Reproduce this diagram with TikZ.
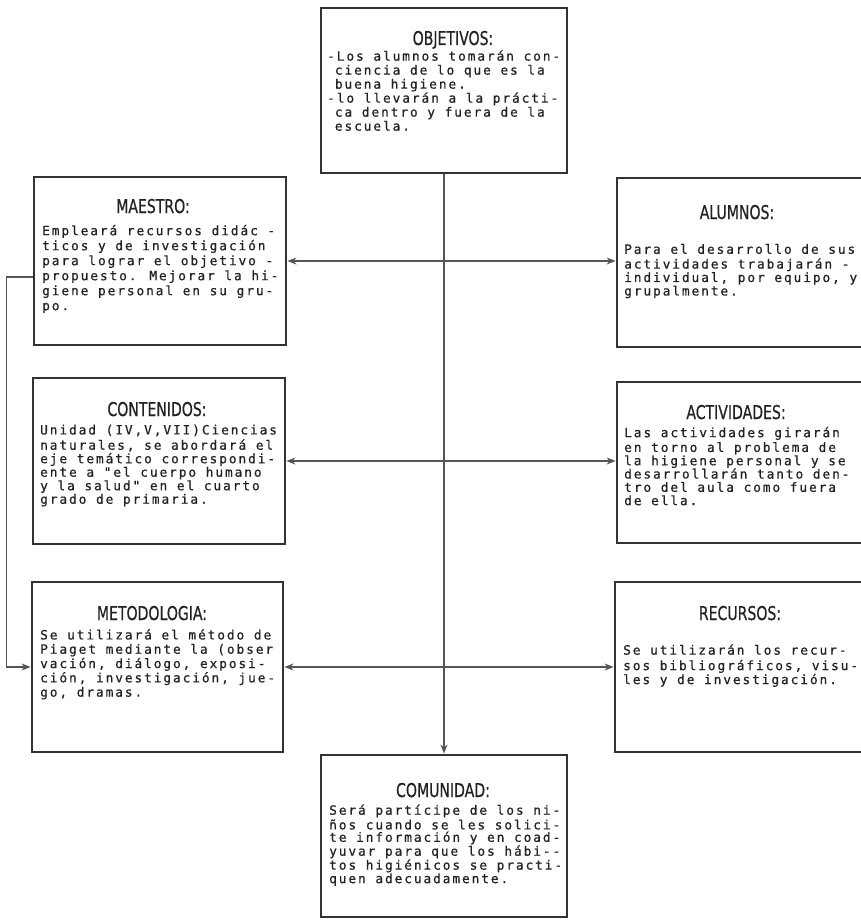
\documentclass[tikz,border=0pt]{standalone}
\usepackage{fontspec}
\newfontfamily\bodyfont[LetterSpace=15,FakeBold=0.6]{DejaVu Sans Mono}
\newfontfamily\titlefont[FakeStretch=0.74,FakeBold=0.5]{DejaVu Sans}
\usetikzlibrary{arrows.meta}
\definecolor{boxline}{HTML}{333333}
\definecolor{conn}{HTML}{555555}
\definecolor{ink}{HTML}{222222}
\tikzset{
  box/.style={draw=boxline, line width=2.8pt, fill=white, rectangle, inner sep=0pt},
  conn/.style={draw=conn, line width=1.4pt},
  tip/.style={-{Stealth[length=9pt,width=7pt]}},
  tips/.style={{Stealth[length=9pt,width=7pt]}-{Stealth[length=9pt,width=7pt]}},
  boxtitle/.style={anchor=base, inner sep=0pt, text=ink, font=\titlefont\fontsize{19}{21}\selectfont},
  bodytext/.style={anchor=north west, inner sep=0pt, align=left, text=ink, font=\bodyfont\fontsize{12.8}{#1}\selectfont}
}
\begin{document}
\begin{tikzpicture}[x=1pt,y=-1pt]
\useasboundingbox (0,0) rectangle (861,920);
\clip (0,0) rectangle (861,920);
\fill[white] (0,0) rectangle (861,920);

% boxes
\node[box, minimum width=246, minimum height=165] (objetivos) at (444,90.5) {};
\node[box, minimum width=252, minimum height=168] (maestro) at (160,261) {};
\node[box, minimum width=253, minimum height=169] (alumnos) at (743.5,262.5) {};
\node[box, minimum width=252, minimum height=166] (contenidos) at (159,461) {};
\node[box, minimum width=253, minimum height=161] (actividades) at (743.5,462.5) {};
\node[box, minimum width=251, minimum height=170] (metodologia) at (157.5,667) {};
\node[box, minimum width=253, minimum height=170] (recursos) at (741.5,667) {};
\node[box, minimum width=246, minimum height=162] (comunidad) at (444,836) {};

% connectors
\draw[conn, tip] (objetivos.south) -- (comunidad.north);
\draw[conn, tips] (maestro.east) -- (maestro.east -| alumnos.west);
\draw[conn, tips] (contenidos.east) -- (contenidos.east -| actividades.west);
\draw[conn, tips] (metodologia.east) -- (metodologia.east -| recursos.west);
\draw[conn, tip] ([yshift=-16pt]maestro.west) -- ++(-26,0) |- (metodologia.west);

% titles
\node[boxtitle] (objetivos-t) at (453,45) {OBJETIVOS:};
\node[boxtitle] (maestro-t) at (153,213) {MAESTRO:};
\node[boxtitle] (alumnos-t) at (737,219) {ALUMNOS:};
\node[boxtitle] (contenidos-t) at (157,416) {CONTENIDOS:};
\node[boxtitle] (actividades-t) at (736,419) {ACTIVIDADES:};
\node[boxtitle] (metodologia-t) at (152,620) {METODOLOGIA:};
\node[boxtitle] (recursos-t) at (740,620) {RECURSOS:};
\node[boxtitle] (comunidad-t) at (443,797) {COMUNIDAD:};

% body texts
\node[bodytext=14] (objetivos-b) at (327,50.2) {\strut-Los alumnos tomarán con-\\
\phantom{-}ciencia de lo que es la\\
\phantom{-}buena higiene.\\
-lo llevarán a la prácti-\\
\phantom{-}ca dentro y fuera de la\\
\phantom{-}escuela.};

\node[bodytext=15] (maestro-b) at (42,224.5) {\strut Empleará recursos didác -\\
ticos y de investigación\\
para lograr el objetivo -\\
propuesto. Mejorar la hi-\\
giene personal en su gru-\\
po.};

\node[bodytext=11.7] (alumnos-b) at (624,243.8) {\strut Para el desarrollo de sus\\
actividades trabajarán -\\
individual, por equipo, y\\
grupalmente.};

\node[bodytext=13.5] (contenidos-b) at (40,424.5) {\strut Unidad (IV,V,VII)Ciencias\\
naturales, se abordará el\\
eje temático correspondi-\\
ente a "el cuerpo humano\\
y la salud" en el cuarto\\
grado de primaria.};

\node[bodytext=13.3] (actividades-b) at (624,426.7) {\strut Las actividades girarán\\
en torno al problema de\\
la higiene personal y se\\
desarrollarán tanto den-\\
tro del aula como fuera\\
de ella.};

\node[bodytext=14.3] (metodologia-b) at (40,629) {\strut Se utilizará el método de\\
Piaget mediante la (obser\\
vación, diálogo, exposi-\\
ción, investigación, jue-\\
go, dramas.};

\node[bodytext=14] (recursos-b) at (623,644.2) {\strut Se utilizarán los recur-\\
sos bibliográficos, visu-\\
les y de investigación.};

\node[bodytext=12.4] (comunidad-b) at (329,804.3) {\strut Será partícipe de los ni-\\
ños cuando se les solici-\\
te información y en coad-\\
yuvar para que los hábi-{}-\\
tos higiénicos se practi-\\
quen adecuadamente.};
\end{tikzpicture}
\end{document}
